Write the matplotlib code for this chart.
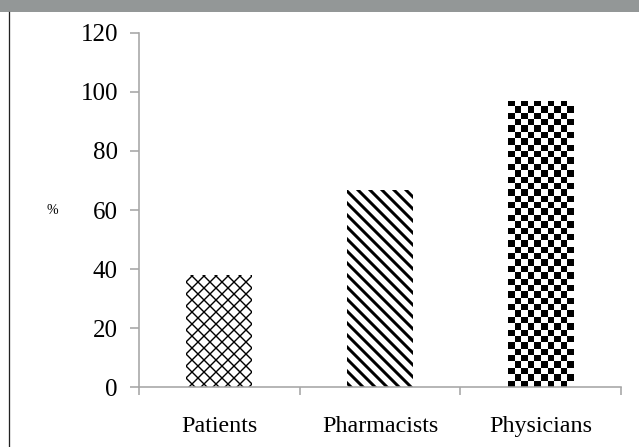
import numpy as np
import matplotlib
matplotlib.use("Agg")
import matplotlib.pyplot as plt
from matplotlib.patches import Rectangle
from matplotlib.lines import Line2D

# data
groups = ["Patients", "Pharmacists", "Physicians"]
percent = [37.8, 66.7, 97.0]
yticks = [0, 20, 40, 60, 80, 100, 120]

plt.rcParams['font.family'] = ['Liberation Serif', 'DejaVu Serif']
plt.rcParams['hatch.color'] = 'black'

# dpi 72 so that one point is one pixel
fig = plt.figure(figsize=(639 / 72, 447 / 72), dpi=72)
ax = fig.add_axes([0.2175, 0.1342, 0.9718 - 0.2175, 0.9262 - 0.1342])

# grey title band (text cut off in the source) and left frame line
fig.patches.append(Rectangle((0, 1 - 12 / 447), 1, 12 / 447, transform=fig.transFigure,
                             facecolor='#939797', edgecolor='none'))
fig.lines.append(Line2D([9 / 639, 9 / 639], [0, 1 - 12 / 447], transform=fig.transFigure,
                        color='#222222', linewidth=1.3))

x = np.arange(len(groups))
bars = ax.bar(x, percent, width=0.41, color='white', edgecolor='black',
              linewidth=0, zorder=2)

# hatch patterns
bars[0].set_hatch('xx')
bars[1].set_hatch('\\\\')
try:
    bars[0].set_hatch_linewidth(1.4)
    bars[1].set_hatch_linewidth(3.0)
except AttributeError:
    pass

# checkerboard for physicians, clipped to the bar
b = bars[2]
x0, w, h = b.get_x(), b.get_width(), b.get_height()
ncol = 10
nrow = int(round(h * 2.95 / 6.4))
board = (np.add.outer(np.arange(nrow), np.arange(ncol)) % 2).astype(float)
im = ax.imshow(board, extent=(x0, x0 + w, 0, h), cmap='gray', aspect='auto',
               interpolation='nearest', zorder=2)
im.set_clip_path(b)

ax.set_xlim(-0.5, 2.5)
ax.set_ylim(0, 120)
ax.set_yticks(yticks)
ax.set_xticks([-0.5, 0.5, 1.5, 2.5])
ax.set_xticklabels([])
ax.set_xticks(x, minor=True)
ax.set_xticklabels(groups, minor=True, fontfamily='Liberation Serif')

for s in ['top', 'right']:
    ax.spines[s].set_visible(False)
for s in ['left', 'bottom']:
    ax.spines[s].set_color('#a6a6a6')
    ax.spines[s].set_linewidth(1.6)
ax.spines['bottom'].set_zorder(3)

ax.tick_params(axis='y', which='major', length=9, width=1.6, color='#a6a6a6',
               labelsize=25, pad=12)
ax.tick_params(axis='x', which='major', length=8, width=1.6, color='#a6a6a6')
ax.tick_params(axis='x', which='minor', length=0, labelsize=24, pad=29)

ax.set_ylabel('%', rotation=0, fontsize=14, va='center', ha='center')
ax.yaxis.set_label_coords(-0.18, 0.5)

fig.savefig('out.png', dpi=72)
